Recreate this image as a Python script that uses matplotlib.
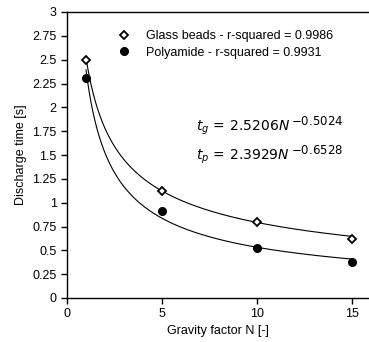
import numpy as np
import matplotlib
matplotlib.use("Agg")
import matplotlib.pyplot as plt

plt.rcParams['font.family'] = ['Liberation Sans', 'DejaVu Sans']
plt.rcParams['mathtext.fontset'] = 'dejavusans'

# measured discharge times
N_pts = [1, 5, 10, 15]
t_glass = [2.50, 1.12, 0.80, 0.62]
t_poly = [2.31, 0.91, 0.52, 0.38]

# power law fits t = a * N^b
a_glass, b_glass = 2.5206, -0.5024
a_poly, b_poly = 2.3929, -0.6528
r2_glass = 0.9986
r2_poly = 0.9931

yticks = [0, 0.25, 0.5, 0.75, 1, 1.25, 1.5, 1.75, 2, 2.25, 2.5, 2.75, 3]
yticklabels = ['0', '0.25', '0.5', '0.75', '1', '1.25', '1.5', '1.75', '2', '2.25', '2.5', '2.75', '3']

fig = plt.figure(figsize=(3.69, 3.42), dpi=100)
ax = fig.add_axes([67/369, 1-298/342, (368-67)/369, (298-12)/342])

NN = np.linspace(1, 15, 300)
ax.plot(NN, a_glass*NN**b_glass, color='black', lw=0.8)
ax.plot(NN, a_poly*NN**b_poly, color='black', lw=0.8)

ax.plot(N_pts, t_glass, ls='none', marker='D', ms=4.2, mfc='white', mec='black', mew=1.3,
        label='Glass beads - r-squared = %.4f' % r2_glass)
ax.plot(N_pts, t_poly, ls='none', marker='o', ms=5.5, mfc='black', mec='black',
        label='Polyamide - r-squared = %.4f' % r2_poly)

# fit equations, exponent drawn a bit larger than mathtext superscripts
eq_rows = [('g', a_glass, b_glass, 0.594), ('p', a_poly, b_poly, 0.493)]
for sub, a, b, yy in eq_rows:
    base = ax.text(0.43, yy, r'$t_%s\,=\,%.4fN$' % (sub, a), transform=ax.transAxes,
                   fontsize=10, va='center', ha='left')
    ax.annotate(r'$%.4f$' % b, xy=(1, 0.5), xycoords=base, xytext=(0.5, 5),
                textcoords='offset points', fontsize=8.5, va='center', ha='left')

ax.legend(loc='upper left', bbox_to_anchor=(0.13, 0.975), frameon=False, fontsize=9,
          handlelength=1.0, handletextpad=1.3, labelspacing=0.35, numpoints=1)

ax.set_xlim(0, 15.85)
ax.set_ylim(0, 3)
ax.set_xticks([0, 5, 10, 15])
ax.set_yticks(yticks)
ax.set_yticklabels(yticklabels)
ax.spines['right'].set_visible(False)
ax.tick_params(direction='out', length=4, width=1, labelsize=9)
for s in ['left', 'bottom', 'top']:
    ax.spines[s].set_linewidth(1)
ax.set_xlabel('Gravity factor N [-]', fontsize=9, labelpad=3)
ax.set_ylabel('Discharge time [s]', fontsize=9, labelpad=4)

fig.savefig('out.png', dpi=100)
